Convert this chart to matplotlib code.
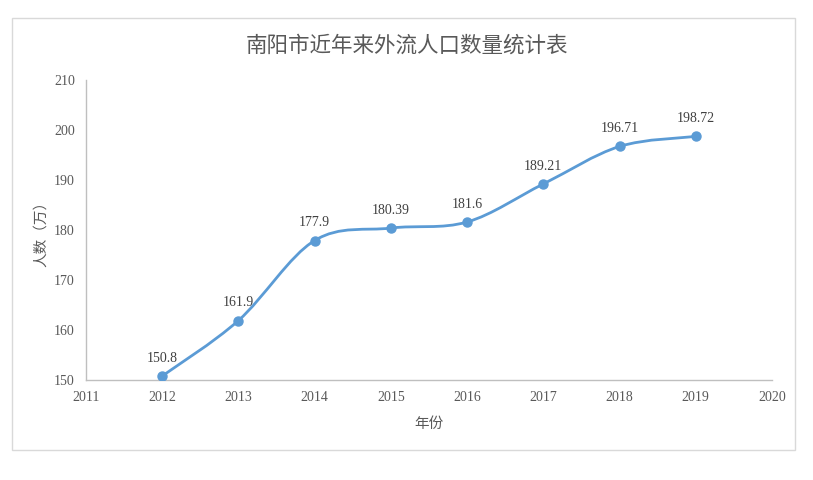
import matplotlib
matplotlib.use("Agg")
import matplotlib.pyplot as plt
from matplotlib.path import Path
from matplotlib.patches import PathPatch, Rectangle

# chart data
years = [2012, 2013, 2014, 2015, 2016, 2017, 2018, 2019]
people = [150.8, 161.9, 177.9, 180.39, 181.6, 189.21, 196.71, 198.72]
labels = ["150.8", "161.9", "177.9", "180.39", "181.6", "189.21", "196.71", "198.72"]
xticks = list(range(2011, 2021))
yticks = list(range(150, 211, 10))

title = "南阳市近年来外流人口数量统计表"
xlabel = "年份"
ylabel = "人数（万）"

BLUE = "#5B9BD5"
GREY = "#595959"
NUM_FONT = ["Liberation Serif", "DejaVu Serif"]
CJK_FONT = ["Noto Sans CJK SC", "DejaVu Sans"]

fig = plt.figure(figsize=(8.13, 4.8), dpi=100)
ax = fig.add_axes([86 / 813, 1 - 380 / 480, (772 - 86) / 813, 300 / 480])

# outer chart frame like the spreadsheet chart area
fig.patches.append(Rectangle((12 / 813, 1 - 450 / 480), 783 / 813, 432 / 480,
                             transform=fig.transFigure, fill=False,
                             edgecolor="#D9D9D9", linewidth=1))

# smoothed line: bezier segments through the data points (excel style)
pts = list(zip(years, people))
verts = [pts[0]]
codes = [Path.MOVETO]
n = len(pts)
for i in range(n - 1):
    p0 = pts[i - 1] if i > 0 else pts[i]
    p1 = pts[i]
    p2 = pts[i + 1]
    p3 = pts[i + 2] if i + 2 < n else pts[i + 1]
    c1 = (p1[0] + (p2[0] - p0[0]) / 6, p1[1] + (p2[1] - p0[1]) / 6)
    c2 = (p2[0] - (p3[0] - p1[0]) / 6, p2[1] - (p3[1] - p1[1]) / 6)
    verts += [c1, c2, p2]
    codes += [Path.CURVE4] * 3
ax.add_patch(PathPatch(Path(verts, codes), facecolor="none", edgecolor=BLUE,
                       linewidth=2, zorder=3))
ax.plot(years, people, linestyle="none", marker="o", markersize=6.5,
        color=BLUE, zorder=4)

for x, y, s in zip(years, people, labels):
    ax.annotate(s, (x, y), xytext=(0, 8), textcoords="offset points",
                ha="center", va="bottom", fontsize=10, color="#404040",
                family=NUM_FONT)

ax.set_xlim(2011, 2020)
ax.set_ylim(150, 210)
ax.set_xticks(xticks)
ax.set_yticks(yticks)
ax.tick_params(length=0, pad=8, labelsize=10, labelcolor=GREY)
for t in ax.get_xticklabels() + ax.get_yticklabels():
    t.set_family(NUM_FONT)

for side in ["top", "right"]:
    ax.spines[side].set_visible(False)
for side in ["left", "bottom"]:
    ax.spines[side].set_color("#BFBFBF")
    ax.spines[side].set_linewidth(1)

ax.set_xlabel(xlabel, family=CJK_FONT, fontsize=10.5, color=GREY, labelpad=9)
ax.set_ylabel(ylabel, family=CJK_FONT, fontsize=10.5, color=GREY, labelpad=4)
fig.text(0.5, 1 - 46 / 480, title, ha="center", va="center",
         family=CJK_FONT, fontsize=15.5, color=GREY)

fig.savefig("out.png", dpi=100)
